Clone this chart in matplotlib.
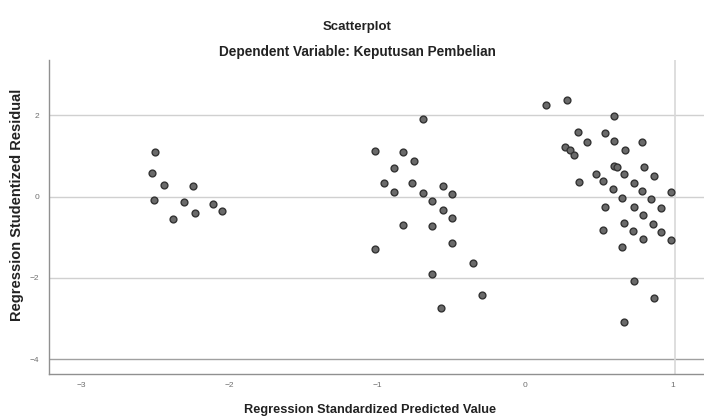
import matplotlib
matplotlib.use("Agg")
import matplotlib.pyplot as plt

plt.rcParams['font.family'] = ['Liberation Sans', 'DejaVu Sans']

# Regression standardized predicted value (x) and studentized residual (y)
pred_values = [
    -2.500, -2.518, -2.437, -2.241, -2.507, -2.302, -2.110, -2.230, -2.047, -2.376,
    -0.691, -1.014, -0.822, -0.748, -0.883, -0.953, -0.761, -0.556, -0.883, -0.687,
    -0.493, -0.626, -0.556, -0.493, -0.822, -0.626, -0.493, -1.014, -0.351, -0.626,
    -0.291, -0.566,
    0.140, 0.286, 0.601, 0.360, 0.541, 0.421, 0.601, 0.793, 0.674, 0.270,
    0.304, 0.333, 0.603, 0.624, 0.806, 0.480, 0.667, 0.868, 0.527, 0.363,
    0.736, 0.597, 0.791, 0.986, 0.657, 0.851, 0.539, 0.736, 0.921, 0.795,
    0.669, 0.867, 0.525, 0.732, 0.921, 0.795, 0.986, 0.657, 0.736, 0.870,
    0.671,
]
resid_values = [
    1.085, 0.569, 0.282, 0.265, -0.086, -0.142, -0.184, -0.398, -0.348, -0.545,
    1.894, 1.124, 1.099, 0.879, 0.692, 0.339, 0.324, 0.265, 0.103, 0.079,
    0.061, -0.103, -0.331, -0.535, -0.699, -0.717, -1.134, -1.288, -1.639, -1.909,
    -2.425, -2.729,
    2.245, 2.361, 1.975, 1.575, 1.566, 1.345, 1.362, 1.345, 1.134, 1.207,
    1.141, 1.018, 0.756, 0.731, 0.712, 0.552, 0.552, 0.510, 0.385, 0.348,
    0.339, 0.177, 0.142, 0.118, -0.029, -0.061, -0.258, -0.250, -0.275, -0.447,
    -0.643, -0.667, -0.822, -0.847, -0.871, -1.050, -1.075, -1.239, -2.066, -2.498,
    -3.072,
]
x_ticks = [-3, -2, -1, 0, 1]
y_ticks = [2, 0, -2, -4]

fig = plt.figure(figsize=(7.04, 4.2), dpi=100)
ax = fig.add_axes([49/704, 1 - 374/420, 1 - 49/704, (374 - 60)/420])

ax.set_xlim(-3.216, 1.209)
ax.set_ylim(-4.356, 3.35)

# reference lines (faint, as in the scanned SPSS chart)
for yv in [2, 0, -2]:
    ax.axhline(yv, color='#d0d0d0', lw=1.0, zorder=1)
ax.axhline(-4, color='#a0a0a0', lw=1.0, zorder=1)
ax.axvline(1.01, color='#d8d8d8', lw=1.2, zorder=1)

ax.scatter(pred_values, resid_values, s=24, c='#6a6a6a', edgecolors='#333333',
           linewidths=1.0, zorder=3)

ax.set_xticks(x_ticks)
ax.set_yticks(y_ticks)
ax.tick_params(axis='both', length=0, labelsize=6, labelcolor='#707070')
ax.tick_params(axis='x', pad=6)
ax.tick_params(axis='y', pad=7)

for side in ['top', 'right']:
    ax.spines[side].set_visible(False)
for side in ['left', 'bottom']:
    ax.spines[side].set_color('#909090')
    ax.spines[side].set_linewidth(1.0)

fig.text(357/704, 1 - 27/420, 'Scatterplot', ha='center', va='center',
         fontsize=9.5, fontweight='bold', color='#222222')
fig.text(357/704, 1 - 52/420, 'Dependent Variable: Keputusan Pembelian', ha='center',
         va='center', fontsize=9.8, fontweight='bold', color='#222222')
fig.text(370/704, 1 - 410/420, 'Regression Standardized Predicted Value', ha='center',
         va='center', fontsize=9.2, fontweight='bold', color='#222222')
fig.text(17/704, 1 - 205/420, 'Regression Studentized Residual', ha='center',
         va='center', rotation=90, fontsize=10.5, fontweight='bold', color='#222222')

fig.savefig('out.png', dpi=100, facecolor='white')
